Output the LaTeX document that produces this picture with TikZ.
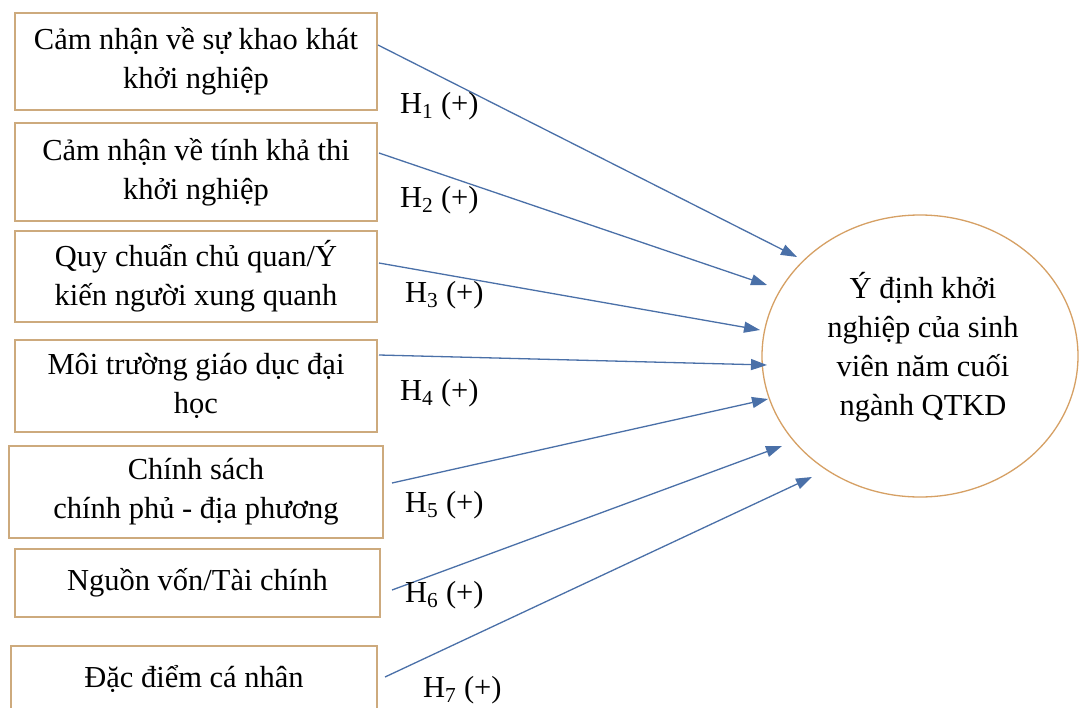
\documentclass[tikz,border=0pt]{standalone}
\usepackage{fontspec}
\setmainfont{Liberation Serif}
\usetikzlibrary{shapes.geometric,arrows.meta}
\definecolor{boxline}{RGB}{205,170,125}
\definecolor{ellline}{RGB}{214,160,100}
\definecolor{arrblue}{RGB}{74,112,168}
\tikzset{
  txt/.style={font=\fontsize{30.5}{39}\selectfont, text=black},
  factor/.style={txt, draw=boxline, line width=1.4pt, rectangle, inner sep=0pt, align=center},
  target/.style={draw=ellline, line width=1.3pt, ellipse, inner sep=0pt},
  hyp/.style={txt, anchor=west, inner sep=0pt},
  arr/.style={draw=arrblue, line width=1.3pt, -{Triangle[length=16pt,width=11pt]}}
}
\begin{document}
\begin{tikzpicture}[x=1pt,y=-1pt]
\useasboundingbox (0,0) rectangle (1079,707);
\clip (0,0) rectangle (1079,707);
\fill[white] (0,0) rectangle (1079,707);

\node[factor, minimum width=362pt, minimum height=97pt] (b1) at (196,61.5) {Cảm nhận về sự khao khát\\khởi nghiệp};
\node[factor, minimum width=362pt, minimum height=98pt] (b2) at (196,172) {Cảm nhận về tính khả thi\\khởi nghiệp};
\node[factor, minimum width=362pt, minimum height=91pt] (b3) at (196,276.5) {Quy chuẩn chủ quan/Ý\\kiến người xung quanh};
\node[factor, minimum width=362pt, minimum height=92pt] (b4) at (196,386) {Môi trường giáo dục đại\\học};
\node[factor, minimum width=374pt, minimum height=92pt] (b5) at (196,492) {Chính sách\\chính phủ - địa phương};
\node[factor, minimum width=365pt, minimum height=68pt] (b6) at (197.5,583) {Nguồn vốn/Tài chính};
\node[factor, minimum width=366pt, minimum height=66pt] (b7) at (194,679) {Đặc điểm cá nhân};

\node[target, minimum width=316pt, minimum height=282pt] (e) at (920,356) {};
\node[txt, align=center, inner sep=0pt] (et) at (923,347) {Ý định khởi\\nghiệp của sinh\\viên năm cuối\\ngành QTKD};

\coordinate (s1) at (378,45);  \coordinate (t1) at (797,257);
\coordinate (s2) at (379,153); \coordinate (t2) at (767,285);
\coordinate (s3) at (379,263); \coordinate (t3) at (760,330);
\coordinate (s4) at (379,355); \coordinate (t4) at (767,365);
\coordinate (s5) at (392,483); \coordinate (t5) at (768,399);
\coordinate (s6) at (392,590); \coordinate (t6) at (782,446);
\coordinate (s7) at (385,677); \coordinate (t7) at (812,477);

\draw[arr] (s1) -- (t1);
\draw[arr] (s2) -- (t2);
\draw[arr] (s3) -- (t3);
\draw[arr] (s4) -- (t4);
\draw[arr] (s5) -- (t5);
\draw[arr] (s6) -- (t6);
\draw[arr] (s7) -- (t7);

\node[hyp] (h1) at (400,106) {H\textsubscript{1} (+)};
\node[hyp] (h2) at (400,200) {H\textsubscript{2} (+)};
\node[hyp] (h3) at (405,295) {H\textsubscript{3} (+)};
\node[hyp] (h4) at (400,393) {H\textsubscript{4} (+)};
\node[hyp] (h5) at (405,505) {H\textsubscript{5} (+)};
\node[hyp] (h6) at (405,595) {H\textsubscript{6} (+)};
\node[hyp] (h7) at (423,690) {H\textsubscript{7} (+)};
\end{tikzpicture}
\end{document}
